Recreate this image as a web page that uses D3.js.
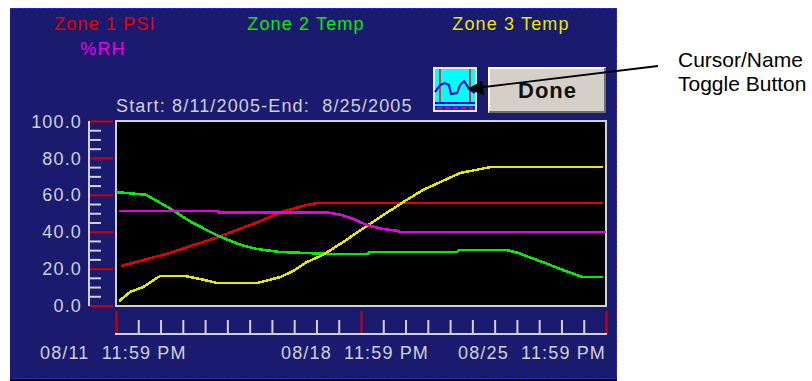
<!DOCTYPE html>
<html>
<head>
<meta charset="utf-8">
<script src="https://cdn.jsdelivr.net/npm/d3@7"></script>
<style>
  html, body { margin: 0; padding: 0; background: #fff; }
  svg { display: block; }
  text { font-family: "Liberation Sans", Arial, sans-serif; }
  .screen { font-size: 18px; letter-spacing: 1.15px; white-space: pre; }
</style>
</head>
<body>
<div id="chart"></div>
<script>
// values: day offset from 08/11, and reading on the 0-100 axis
const zone1Days = [0.14, 1.46, 2.9, 4.03, 4.77, 5.46, 5.74, 6.0, 13.92];
const zone1Vals = [21.4, 28, 37, 45, 51, 54.5, 55.5, 55.5, 55.5];
const zone2Days = [0, 0.86, 1.51, 2.17, 2.89, 3.54, 4.03, 4.69, 6.03, 7.2, 7.23, 9.74, 9.8, 11.17, 11.49, 11.83, 12.2, 12.69, 13.17, 13.34, 13.92];
const zone2Vals = [61.5, 60, 53, 45, 38, 33, 30.6, 29, 28, 28, 29, 29, 30, 30, 28.5, 26, 23.5, 19.8, 16.5, 15.4, 15.4];
const zone3Days = [0.09, 0.4, 0.77, 1.26, 1.97, 2.4, 2.89, 4.03, 4.69, 5.06, 5.46, 5.91, 6.49, 7.2, 8.2, 8.77, 9.83, 10.69, 13.92];
const zone3Vals = [2.4, 7.3, 10, 16, 16, 14.4, 12.2, 12.2, 15.4, 18.7, 23.6, 27.4, 34.4, 43.6, 56, 62.6, 71.8, 75, 75];
const rhDays = [0.09, 2.91, 2.94, 6.03, 6.4, 6.77, 7.17, 7.63, 8.06, 8.11, 14];
const rhVals = [51.2, 51.2, 50.4, 50.4, 49.3, 47, 43.6, 41.5, 40.4, 39.8, 39.8];

const seriesNames = ['Zone 1 PSI', 'Zone 2 Temp', 'Zone 3 Temp', '%RH'];
const seriesColors = ['#e80000', '#00f000', '#e8e800', '#e800e8'];
const xLabels = ['08/11  11:59 PM', '08/18  11:59 PM', '08/25  11:59 PM'];

const series = [
  { name: seriesNames[0], color: seriesColors[0], days: zone1Days, vals: zone1Vals },
  { name: seriesNames[1], color: seriesColors[1], days: zone2Days, vals: zone2Vals },
  { name: seriesNames[2], color: seriesColors[2], days: zone3Days, vals: zone3Vals },
  { name: seriesNames[3], color: seriesColors[3], days: rhDays, vals: rhVals }
];

const width = 812, height = 381;
const svg = d3.select('#chart').append('svg')
  .attr('width', width)
  .attr('height', height);

const navy = '#1a1a6e', grey = '#d0d0d8';

// -- panel
svg.append('rect').attr('x', 10).attr('y', 8).attr('width', 607).attr('height', 371).attr('fill', navy);
svg.append('path').attr('d', 'M10,8.5H616.5V378.5H10').attr('fill', 'none')
  .attr('stroke', '#2a2ac0').attr('stroke-dasharray', '4 1');
svg.append('rect').attr('x', 10).attr('y', 379).attr('width', 607).attr('height', 2).attr('fill', '#000');

// -- plot area
const x = d3.scaleLinear().domain([0, 14]).range([116, 606]);
const y = d3.scaleLinear().domain([0, 100]).range([305.5, 121]);

svg.append('rect').attr('x', 116).attr('y', 121).attr('width', 490).attr('height', 185)
  .attr('fill', '#000').attr('stroke', grey).attr('stroke-width', 2);

// -- y axis
const yAxis = svg.append('g')
  .attr('transform', 'translate(113,0)')
  .call(d3.axisLeft(y).tickValues(d3.range(0, 101, 5)).tickSize(24).tickFormat(d => d % 20 === 0 ? d.toFixed(1) : ''));
yAxis.select('.domain').remove();
yAxis.selectAll('.tick line')
  .attr('stroke', d => d % 20 === 0 ? '#d00000' : grey)
  .attr('stroke-width', 2)
  .attr('x2', d => d % 20 === 0 ? -24 : -12)
  .attr('transform', d => d % 20 === 0 ? null : 'translate(-12,0)');
yAxis.selectAll('.tick text')
  .attr('class', 'screen')
  .attr('x', -31)
  .attr('dy', '0.34em')
  .attr('fill', grey);
svg.append('line').attr('x1', 89).attr('x2', 89).attr('y1', 121).attr('y2', 306)
  .attr('stroke', grey).attr('stroke-width', 2);

// -- x axis
const xTicks = d3.range(0, 23);
const xt = d3.scaleLinear().domain([0, 22]).range([116, 606]);
const xAxis = svg.append('g')
  .attr('transform', 'translate(0,334)')
  .call(d3.axisTop(xt).tickValues(xTicks).tickSize(14).tickFormat(''));
xAxis.select('.domain').remove();
xAxis.selectAll('.tick line')
  .attr('stroke', d => d % 11 === 0 ? '#d00000' : grey)
  .attr('stroke-width', 2)
  .attr('y2', d => d % 11 === 0 ? -23 : -14);
svg.append('line').attr('x1', 115).attr('x2', 607).attr('y1', 334).attr('y2', 334)
  .attr('stroke', grey).attr('stroke-width', 2);

svg.append('g').selectAll('text')
  .data(xLabels)
  .join('text')
  .attr('class', 'screen')
  .attr('x', (d, i) => [40, 281, 458][i])
  .attr('y', 359)
  .attr('fill', grey)
  .text(d => d);

// -- lines
const line = d3.line().x(d => x(d[0])).y(d => y(d[1]));
svg.append('g')
  .attr('fill', 'none')
  .attr('stroke-width', 2.5)
  .attr('shape-rendering', 'crispEdges')
  .selectAll('path')
  .data(series)
  .join('path')
  .attr('stroke', d => d.color)
  .attr('d', d => line(d.days.map((day, i) => [day, d.vals[i]])));

// -- series names
const legendPos = [[105, 30], [306, 30], [511, 30], [103, 55]];
svg.append('g').selectAll('text')
  .data(series)
  .join('text')
  .attr('class', 'screen')
  .attr('x', (d, i) => legendPos[i][0])
  .attr('y', (d, i) => legendPos[i][1])
  .attr('text-anchor', 'middle')
  .attr('fill', d => d.color)
  .text(d => d.name);

svg.append('text').attr('class', 'screen').attr('x', 116).attr('y', 112)
  .attr('fill', grey)
  .text('Start: 8/11/2005-End:  8/25/2005');

// -- toggle button
const icon = svg.append('g').attr('transform', 'translate(433,67)');
icon.append('rect').attr('width', 44).attr('height', 45).attr('fill', '#e8e8f8');
icon.append('rect').attr('x', 2).attr('y', 2).attr('width', 40).attr('height', 41).attr('fill', '#00ffff');
icon.append('path').attr('d', 'M7,2V35M37,2V35').attr('stroke', '#d04040').attr('stroke-width', 2);
icon.append('path').attr('d', 'M2,25L7,18L12,16L16,18L18,27L24,26L27,18L31,14L37,23L42,26')
  .attr('fill', 'none').attr('stroke', '#0000e0').attr('stroke-width', 2);
icon.append('rect').attr('x', 2).attr('y', 35).attr('width', 40).attr('height', 2).attr('fill', '#0000e0');
icon.append('rect').attr('x', 2).attr('y', 39).attr('width', 40).attr('height', 4).attr('fill', '#2020e0');
icon.append('path').attr('d', 'M4,41H40').attr('stroke', '#c000a0').attr('stroke-width', 3).attr('stroke-dasharray', '5 3');

// -- done button
svg.append('rect').attr('x', 488).attr('y', 67).attr('width', 118).attr('height', 46).attr('fill', '#d4d0c8');
svg.append('path').attr('d', 'M489,112V68H605').attr('fill', 'none').attr('stroke', '#fff').attr('stroke-width', 2);
svg.append('path').attr('d', 'M489,112H605V68').attr('fill', 'none').attr('stroke', '#707070').attr('stroke-width', 2);
svg.append('text').attr('x', 547.5).attr('y', 98).attr('text-anchor', 'middle')
  .attr('font-size', 22).attr('font-weight', 'bold').attr('letter-spacing', 1).attr('fill', '#111').text('Done');

// -- annotation
svg.append('line').attr('x1', 658).attr('y1', 66).attr('x2', 480).attr('y2', 87.5)
  .attr('stroke', '#000').attr('stroke-width', 1.8);
svg.append('path').attr('d', 'M467,89L482,81L484,95Z').attr('fill', '#000');
svg.append('g').selectAll('text')
  .data(['Cursor/Name', 'Toggle Button'])
  .join('text')
  .attr('x', 678)
  .attr('y', (d, i) => 67 + i * 24)
  .attr('font-size', 21)
  .attr('fill', '#000')
  .text(d => d);
</script>
</body>
</html>
